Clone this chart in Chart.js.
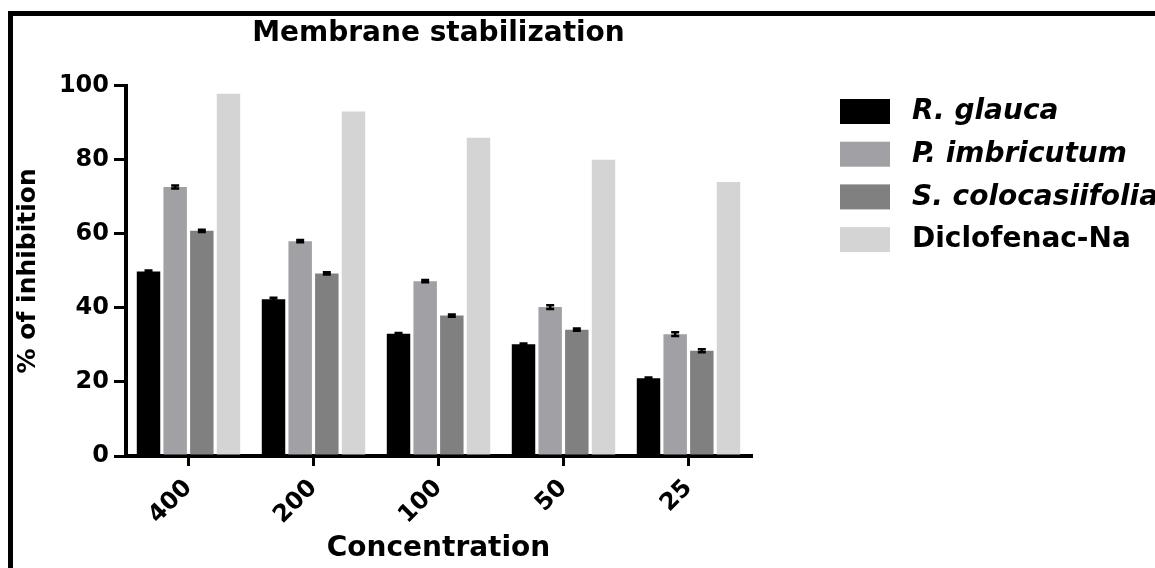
<!DOCTYPE html>
<html>
<head>
<meta charset="utf-8">
<script src="https://cdn.jsdelivr.net/npm/chart.js@4.4.1/dist/chart.umd.min.js"></script>
<style>
  html, body { margin: 0; padding: 0; background: #fff; }
  #wrap { width: 1155px; height: 568px; position: relative; }
</style>
</head>
<body>
<div id="wrap"><canvas id="myChart" width="1155" height="568"></canvas></div>
<script>
// concentrations on the x axis
var labels = ['400', '200', '100', '50', '25'];

// % of inhibition
var rGlauca = [49.8, 42.3, 33.0, 30.2, 21.0];
var pImbricutum = [72.6, 58.0, 47.2, 40.2, 32.9];
var sColocasiifolia = [60.8, 49.3, 37.9, 34.1, 28.4];
var diclofenac = [97.8, 93.0, 85.9, 80.0, 74.0];

// error bars (SEM), tiny in the figure
var rGlaucaErr = [0.3, 0.4, 0.2, 0.2, 0.2];
var pImbricutumErr = [0.4, 0.3, 0.3, 0.5, 0.5];
var sColocasiifoliaErr = [0.3, 0.3, 0.3, 0.3, 0.4];

var yTicks = [0, 20, 40, 60, 80, 100];

const FONT = "'DejaVu Sans', sans-serif";

// outer frame (left and top edges only are visible)
const framePlugin = {
    id: 'frame',
    beforeDraw(chart) {
        const ctx = chart.ctx;
        ctx.save();
        ctx.fillStyle = '#fff';
        ctx.fillRect(0, 0, chart.width, chart.height);
        ctx.fillStyle = '#000';
        ctx.fillRect(8, 11, chart.width - 8, 5);
        ctx.fillRect(8, 11, 5, chart.height - 11);
        ctx.restore();
    }
};

const errorBarPlugin = {
    id: 'errorBars',
    afterDatasetsDraw(chart) {
        const ctx = chart.ctx;
        const y = chart.scales.y;
        ctx.save();
        ctx.strokeStyle = '#000';
        ctx.lineWidth = 2.5;
        chart.data.datasets.forEach((ds, i) => {
            if (!ds.errors) return;
            const meta = chart.getDatasetMeta(i);
            meta.data.forEach((bar, j) => {
                const v = ds.data[j], e = ds.errors[j];
                const top = y.getPixelForValue(v + e);
                const bot = y.getPixelForValue(v - e);
                const x = bar.x;
                ctx.beginPath();
                ctx.moveTo(x, top); ctx.lineTo(x, bot);
                ctx.moveTo(x - 4, top); ctx.lineTo(x + 4, top);
                ctx.moveTo(x - 4, bot); ctx.lineTo(x + 4, bot);
                ctx.stroke();
            });
        });
        ctx.restore();
    }
};

// legend drawn by hand so species names can be italic
const legendPlugin = {
    id: 'sideLegend',
    afterDraw(chart) {
        const ctx = chart.ctx;
        ctx.save();
        chart.data.datasets.forEach((ds, i) => {
            const top = 99 + i * 42.7;
            ctx.fillStyle = ds.backgroundColor;
            ctx.fillRect(840, top, 50, 25);
            ctx.fillStyle = '#000';
            ctx.font = (ds.italic ? 'italic ' : '') + 'bold 28px ' + FONT;
            ctx.textBaseline = 'middle';
            ctx.textAlign = 'left';
            ctx.fillText(ds.label, 912, top + 13);
        });
        ctx.restore();
    }
};

document.addEventListener("DOMContentLoaded", (e) => {
    var ctx = document.getElementById('myChart').getContext('2d');
    var chart = new Chart(ctx, {
        type: 'bar',
        data: {
            labels: labels,
            datasets: [{
                label: 'R. glauca',
                data: rGlauca,
                errors: rGlaucaErr,
                italic: true,
                backgroundColor: '#000000'
            }, {
                label: 'P. imbricutum',
                data: pImbricutum,
                errors: pImbricutumErr,
                italic: true,
                backgroundColor: '#a1a1a5'
            }, {
                label: 'S. colocasiifolia',
                data: sColocasiifolia,
                errors: sColocasiifoliaErr,
                italic: true,
                backgroundColor: '#808080'
            }, {
                label: 'Diclofenac-Na',
                data: diclofenac,
                italic: false,
                backgroundColor: '#d4d4d4'
            }]
        },
        options: {
            responsive: false,
            animation: false,
            categoryPercentage: 0.853,
            barPercentage: 0.88,
            layout: {
                padding: { left: 12, right: 404, top: 16, bottom: 2 }
            },
            plugins: {
                legend: { display: false },
                tooltip: { enabled: false },
                title: {
                    display: true,
                    fullSize: false,
                    text: 'Membrane stabilization',
                    color: '#000',
                    font: { family: FONT, size: 28, weight: 'bold' },
                    padding: { top: 1, bottom: 35 }
                }
            },
            scales: {
                x: {
                    afterFit: function(scale) { scale.height = 110; },
                    grid: {
                        offset: false,
                        drawOnChartArea: false,
                        color: '#000',
                        lineWidth: 3,
                        tickLength: 10
                    },
                    border: { color: '#000', width: 4 },
                    ticks: {
                        color: '#000',
                        minRotation: 45,
                        maxRotation: 45,
                        padding: 8,
                        font: { family: FONT, size: 24, weight: 'bold' }
                    },
                    title: {
                        display: true,
                        text: 'Concentration',
                        color: '#000',
                        padding: { top: 0, bottom: 0 },
                        font: { family: FONT, size: 28, weight: 'bold' }
                    }
                },
                y: {
                    min: 0,
                    max: 100,
                    afterFit: function(scale) { scale.width = 114; },
                    afterBuildTicks: function(scale) {
                        scale.ticks = yTicks.map(v => ({ value: v }));
                    },
                    grid: {
                        drawOnChartArea: false,
                        color: '#000',
                        lineWidth: 3,
                        tickLength: 12
                    },
                    border: { color: '#000', width: 4 },
                    ticks: {
                        color: '#000',
                        padding: 5,
                        font: { family: FONT, size: 24, weight: 'bold' }
                    },
                    title: {
                        display: true,
                        text: '% of inhibition',
                        color: '#000',
                        padding: { top: 1, bottom: 0 },
                        font: { family: FONT, size: 25, weight: 'bold' }
                    }
                }
            }
        },
        plugins: [framePlugin, errorBarPlugin, legendPlugin]
    });
});
</script>
</body>
</html>
